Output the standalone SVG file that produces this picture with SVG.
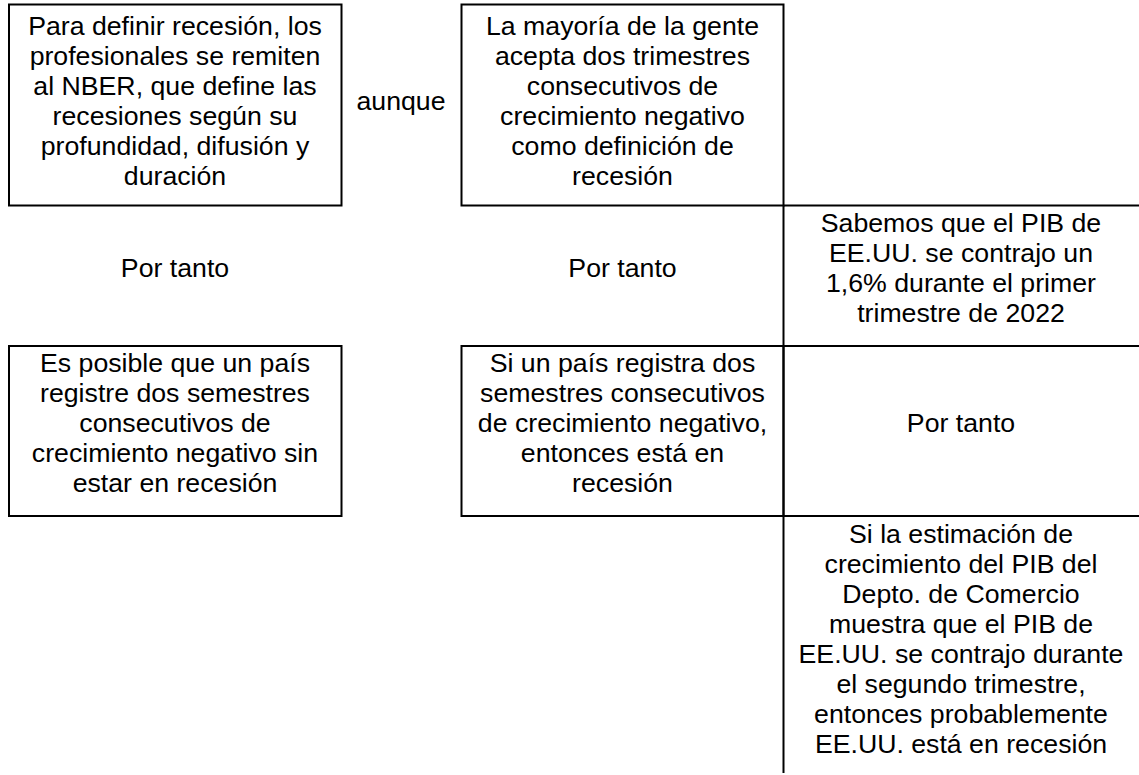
<svg xmlns="http://www.w3.org/2000/svg" width="1139" height="775" viewBox="0 0 1139 775">
  <style>
    .box { fill: #ffffff; stroke: #000000; stroke-width: 2; }
    .ln { stroke: #000000; stroke-width: 2; fill: none; }
    text { font-family: "Liberation Sans", Arial, sans-serif; font-size: 26.7px; fill: #000000; text-anchor: middle; }
  </style>
  <rect width="1139" height="775" fill="#ffffff"/>

  <g id="node-nber">
    <rect class="box" x="9" y="4.5" width="332.5" height="201"/>
    <text x="175" y="35">Para definir recesión, los</text>
    <text x="175" y="65">profesionales se remiten</text>
    <text x="175" y="95">al NBER, que define las</text>
    <text x="175" y="125">recesiones según su</text>
    <text x="175" y="155">profundidad, difusión y</text>
    <text x="175" y="185">duración</text>
  </g>

  <g id="node-mayoria">
    <rect class="box" x="461.5" y="4.5" width="322" height="201"/>
    <text x="622.5" y="35">La mayoría de la gente</text>
    <text x="622.5" y="65">acepta dos trimestres</text>
    <text x="622.5" y="95">consecutivos de</text>
    <text x="622.5" y="125">crecimiento negativo</text>
    <text x="622.5" y="155">como definición de</text>
    <text x="622.5" y="185">recesión</text>
  </g>

  <g id="node-sabemos">
    <text x="961" y="232">Sabemos que el PIB de</text>
    <text x="961" y="262">EE.UU. se contrajo un</text>
    <text x="961" y="292">1,6% durante el primer</text>
    <text x="961" y="322">trimestre de 2022</text>
  </g>

  <g id="node-posible">
    <rect class="box" x="9" y="346" width="332.5" height="170"/>
    <text x="175" y="372">Es posible que un país</text>
    <text x="175" y="402">registre dos semestres</text>
    <text x="175" y="432">consecutivos de</text>
    <text x="175" y="462">crecimiento negativo sin</text>
    <text x="175" y="492">estar en recesión</text>
  </g>

  <g id="node-si-pais">
    <rect class="box" x="461.5" y="346" width="322" height="170"/>
    <text x="622.5" y="372">Si un país registra dos</text>
    <text x="622.5" y="402">semestres consecutivos</text>
    <text x="622.5" y="432">de crecimiento negativo,</text>
    <text x="622.5" y="462">entonces está en</text>
    <text x="622.5" y="492">recesión</text>
  </g>

  <g id="node-estimacion">
    <text x="961" y="543">Si la estimación de</text>
    <text x="961" y="573">crecimiento del PIB del</text>
    <text x="961" y="603">Depto. de Comercio</text>
    <text x="961" y="633">muestra que el PIB de</text>
    <text x="961" y="663">EE.UU. se contrajo durante</text>
    <text x="961" y="693">el segundo trimestre,</text>
    <text x="961" y="723">entonces probablemente</text>
    <text x="961" y="753">EE.UU. está en recesión</text>
  </g>

  <g id="connectors">
    <line class="ln" x1="783.5" y1="205.5" x2="783.5" y2="773"/>
    <line class="ln" x1="783.5" y1="205.5" x2="1139" y2="205.5"/>
    <line class="ln" x1="783.5" y1="346" x2="1139" y2="346"/>
    <line class="ln" x1="783.5" y1="516" x2="1139" y2="516"/>
    <text x="401" y="110">aunque</text>
    <text x="175" y="277">Por tanto</text>
    <text x="622.5" y="277">Por tanto</text>
    <text x="961" y="432">Por tanto</text>
  </g>
</svg>
